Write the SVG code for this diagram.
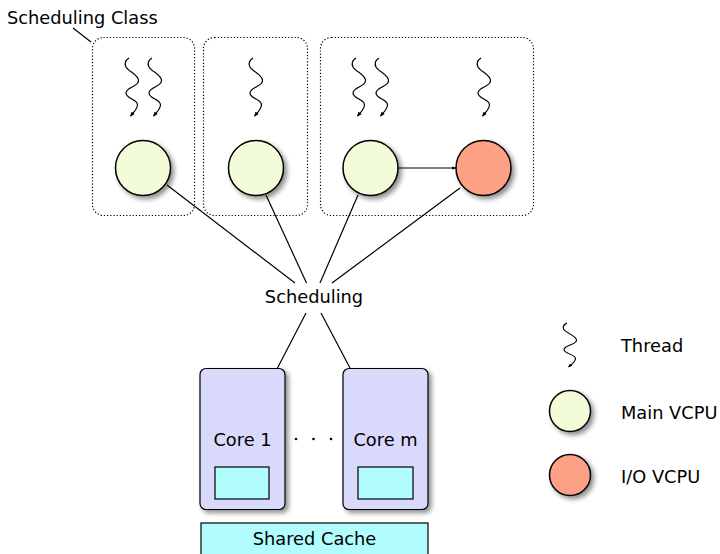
<svg xmlns="http://www.w3.org/2000/svg" width="720" height="554" viewBox="0 0 720 554">
<defs>
<style>
text{font-family:"DejaVu Sans","Liberation Sans",sans-serif;font-size:17.8px;fill:#000}
.cls{fill:none;stroke:#000;stroke-width:1.2;stroke-dasharray:1.2 2;}
.edge{stroke:#000;stroke-width:1.2;fill:none}
.thr{fill:none;stroke:#000;stroke-width:1.2;marker-end:url(#ah)}
.main{fill:#f2fcd9;stroke:#000;stroke-width:1.5;filter:url(#sh)}
.io{fill:#fca186;stroke:#000;stroke-width:1.5;filter:url(#sh)}
.core{fill:#d9d9fb;stroke:#000;stroke-width:1.2;filter:url(#sh)}
.cache{fill:#b1fdfd;stroke:#000;stroke-width:1.2}
</style>
<filter id="sh" x="-30%" y="-30%" width="170%" height="170%">
<feGaussianBlur in="SourceAlpha" stdDeviation="2.5"/>
<feOffset dx="3" dy="3" result="b"/>
<feComponentTransfer><feFuncA type="linear" slope="0.45"/></feComponentTransfer>
<feMerge><feMergeNode/><feMergeNode in="SourceGraphic"/></feMerge>
</filter>
<marker id="ah" viewBox="0 0 10 10" refX="8" refY="5" markerWidth="5" markerHeight="5" orient="auto" markerUnits="userSpaceOnUse">
<path d="M0,1 L9,5 L0,9 Z" fill="#000"/>
</marker>
<marker id="ah2" viewBox="0 0 10 10" refX="9" refY="5" markerWidth="5" markerHeight="5" orient="auto" markerUnits="userSpaceOnUse">
<path d="M0,1.5 L10,5 L0,8.5 Z" fill="#000"/>
</marker>
<path id="thread" d="M-3,0 C-6,2 -8,5 -6,9 C-3,14 7,17 6.5,23 C6,29 -6,29 -6,35 C-6,41 6,41 5.5,47 C5,52 1,55 -1.5,58"/>
</defs>

<g id="label-scheduling-class">
<text x="7" y="24">Scheduling Class</text>
<line class="edge" x1="73" y1="28" x2="91" y2="42"/>
</g>

<g id="class1"><rect class="cls" x="92.5" y="37.5" width="102" height="178" rx="11"/></g>
<g id="class2"><rect class="cls" x="203.5" y="37.5" width="104" height="178" rx="11"/></g>
<g id="class3"><rect class="cls" x="320.5" y="37.5" width="213" height="178" rx="11"/></g>

<g id="threads">
<use href="#thread" class="thr" x="132" y="58"/>
<use href="#thread" class="thr" x="155" y="58"/>
<use href="#thread" class="thr" x="256" y="58"/>
<use href="#thread" class="thr" x="359" y="58"/>
<use href="#thread" class="thr" x="382" y="58"/>
<use href="#thread" class="thr" x="484" y="58"/>
</g>

<g id="connectors">
<line class="edge" x1="167" y1="185" x2="295" y2="283"/>
<line class="edge" x1="266" y1="195" x2="306.5" y2="283"/>
<line class="edge" x1="358" y1="195" x2="320" y2="283"/>
<line class="edge" x1="460" y1="188" x2="332" y2="283"/>
<line class="edge" x1="306" y1="313" x2="277.5" y2="368"/>
<line class="edge" x1="321" y1="313" x2="350" y2="368"/>
<line class="edge" x1="398" y1="168" x2="456" y2="168" marker-end="url(#ah2)"/>
</g>

<g id="vcpu1"><circle class="main" cx="143" cy="168" r="27.5"/></g>
<g id="vcpu2"><circle class="main" cx="256" cy="168" r="27.5"/></g>
<g id="vcpu3"><circle class="main" cx="370.5" cy="168" r="27.5"/></g>
<g id="vcpu-io"><circle class="io" cx="483.5" cy="168" r="27.5"/></g>

<g id="scheduling"><text x="314" y="303" text-anchor="middle">Scheduling</text></g>

<g id="core1">
<rect class="core" x="200" y="368.5" width="85" height="141" rx="6"/>
<text x="242.5" y="446" text-anchor="middle">Core 1</text>
<rect class="cache" x="215" y="467" width="54" height="32"/>
</g>
<g id="dots">
<circle cx="296" cy="439" r="1.3"/>
<circle cx="313.5" cy="439" r="1.3"/>
<circle cx="331" cy="439" r="1.3"/>
</g>
<g id="corem">
<rect class="core" x="343" y="368.5" width="85" height="141" rx="6"/>
<text x="385.5" y="446" text-anchor="middle">Core m</text>
<rect class="cache" x="358" y="467" width="55" height="32"/>
</g>
<g id="shared-cache">
<rect class="cache" x="201" y="523" width="227" height="40"/>
<text x="314.5" y="545" text-anchor="middle">Shared Cache</text>
</g>

<g id="legend">
<use href="#thread" class="thr" transform="translate(570,323) scale(1,0.76)"/>
<text x="621" y="352">Thread</text>
<circle class="main" cx="570" cy="411" r="20.5"/>
<text x="621" y="419">Main VCPU</text>
<circle class="io" cx="570" cy="475" r="20.5"/>
<text x="621" y="483">I/O VCPU</text>
</g>
</svg>
